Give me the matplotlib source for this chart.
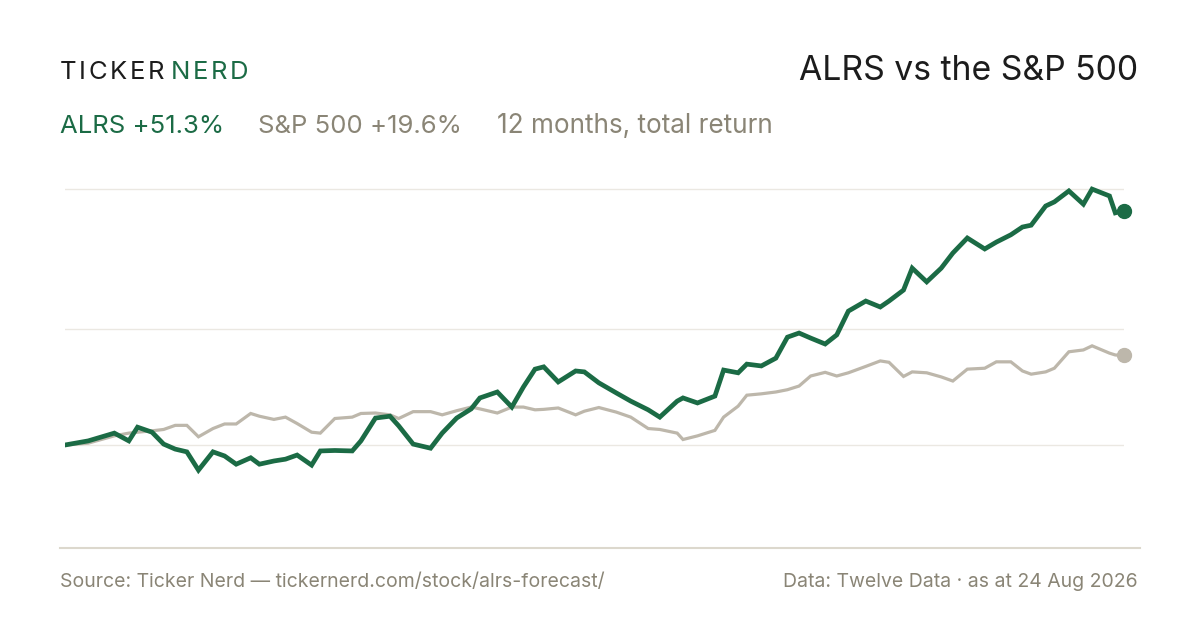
import matplotlib.pyplot as plt
from matplotlib.lines import Line2D

plt.rcParams['font.family'] = ['Inter', 'DejaVu Sans']

W, H = 1200, 630

GREEN = '#1b6b45'
GREY_LINE = '#bdb7ab'
GREY_TEXT = '#8a8576'
INK = '#1c1c1c'

# days since 24 Aug 2025
days = [0, 8, 17, 22, 25, 30, 34, 38, 42, 46,
        51, 55, 59, 64, 67, 72, 76, 80, 85, 88,
        93, 99, 102, 107, 112, 115, 120, 126, 130, 135,
        140, 143, 149, 154, 158, 162, 165, 170, 176, 179,
        184, 190, 195, 201, 205, 211, 213, 218, 224, 227,
        232, 235, 240, 245, 249, 253, 257, 262, 266, 270,
        276, 281, 284, 289, 292, 297, 302, 306, 311, 317,
        321, 326, 330, 333, 338, 341, 346, 351, 354, 360,
        362, 365]

# cumulative total return, %
alrs = [0.0, 0.9, 2.6, 0.9, 3.9, 2.8, 0.2, -0.9, -1.5, -5.5,
        -1.5, -2.4, -4.2, -2.8, -4.2, -3.5, -3.1, -2.2, -4.4, -1.3,
        -1.2, -1.3, 0.9, 5.9, 6.3, 4.2, 0.2, -0.7, 2.6, 5.9,
        7.9, 10.3, 11.6, 8.3, 12.7, 16.6, 17.1, 13.8, 16.2, 16.0,
        13.6, 11.4, 9.6, 7.7, 6.1, 9.6, 10.3, 9.2, 10.7, 16.4,
        15.8, 17.7, 17.3, 19.0, 23.6, 24.5, 23.4, 22.1, 24.1, 29.3,
        31.5, 30.2, 31.5, 33.9, 38.7, 35.7, 38.7, 42.0, 45.3, 42.9,
        44.4, 46.0, 47.7, 48.1, 52.3, 53.2, 55.6, 52.7, 56.0, 54.5,
        50.8, 51.3]

spx = [0.0, 0.4, 2.0, 2.6, 2.8, 3.1, 3.4, 4.3, 4.3, 1.8,
       3.6, 4.6, 4.6, 6.9, 6.3, 5.6, 6.1, 4.7, 2.8, 2.6,
       5.8, 6.1, 6.9, 7.0, 6.6, 5.8, 7.3, 7.3, 6.6, 7.5,
       8.3, 7.9, 7.0, 8.3, 8.3, 7.7, 7.8, 8.1, 6.6, 7.4,
       8.2, 7.2, 6.1, 3.6, 3.4, 2.6, 1.2, 2.0, 3.2, 6.1,
       8.5, 10.9, 11.2, 11.6, 12.1, 12.9, 15.1, 15.9, 15.1, 15.8,
       17.2, 18.4, 18.1, 15.0, 16.0, 15.8, 14.9, 14.0, 16.6, 16.8,
       18.2, 18.2, 16.2, 15.5, 16.0, 16.8, 20.4, 20.8, 21.7, 20.1,
       19.7, 19.6]

grid_levels = [0.0, 25.4, 56.0]


def px(x, y):
    # pixel position (top-left origin) -> figure fraction
    return x / W, 1 - y / H


def tracked(fig, x, y, s, color, size, track):
    """Draw text letter by letter with extra spacing, return end x in px."""
    r = fig.canvas.get_renderer()
    for ch in s:
        t = fig.text(*px(x, y), ch, color=color, fontsize=size, va='baseline')
        x += t.get_window_extent(r).width + track
    return x


fig = plt.figure(figsize=(W / 100, H / 100), dpi=100)
fig.patch.set_facecolor('white')

# plot area: x 65..1124 px, y 170..548 px
ax = fig.add_axes([65 / W, (H - 548) / H, (1124 - 65) / W, (548 - 170) / H])
ax.set_xlim(0, 365)
ax.set_ylim(-22.54, 60.18)
ax.axis('off')

for lvl in grid_levels:
    ax.axhline(lvl, color='#ebe8e2', lw=1.0, zorder=1)

ax.plot(days, spx, color=GREY_LINE, lw=2.3, solid_joinstyle='miter', zorder=2)
ax.plot(days, alrs, color=GREEN, lw=3.4, solid_joinstyle='miter', zorder=3)
ax.plot(days[-1], spx[-1], 'o', ms=10, color=GREY_LINE, clip_on=False, zorder=4)
ax.plot(days[-1], alrs[-1], 'o', ms=10, color=GREEN, clip_on=False, zorder=4)

# separator above footer
fig.add_artist(Line2D([60 / W, 1140 / W], [1 - 548 / H] * 2, color='#dcd8cd', lw=1.5))

# header
x_end = tracked(fig, 60, 79, 'TICKER', INK, 18.5, 2.6)
tracked(fig, x_end + 4, 79, 'NERD', GREEN, 18.5, 2.6)

fig.text(*px(1138, 80), 'ALRS vs the S&P 500', color=INK, fontsize=24.3,
         ha='right', va='baseline')

fig.text(*px(60, 133), 'ALRS +51.3%', color=GREEN, fontsize=18.5, va='baseline')
fig.text(*px(258, 133), 'S&P 500 +19.6%', color=GREY_TEXT, fontsize=18.5, va='baseline')
fig.text(*px(497, 133), '12 months, total return', color=GREY_TEXT, fontsize=18.8,
         va='baseline')

# footer
fig.text(*px(60, 587), 'Source: Ticker Nerd \u2014 tickernerd.com/stock/alrs-forecast/',
         color=GREY_TEXT, fontsize=14, va='baseline')
fig.text(*px(1138, 587), 'Data: Twelve Data \u00b7 as at 24 Aug 2026',
         color=GREY_TEXT, fontsize=14, ha='right', va='baseline')

fig.savefig('out.png', dpi=100, facecolor='white')
